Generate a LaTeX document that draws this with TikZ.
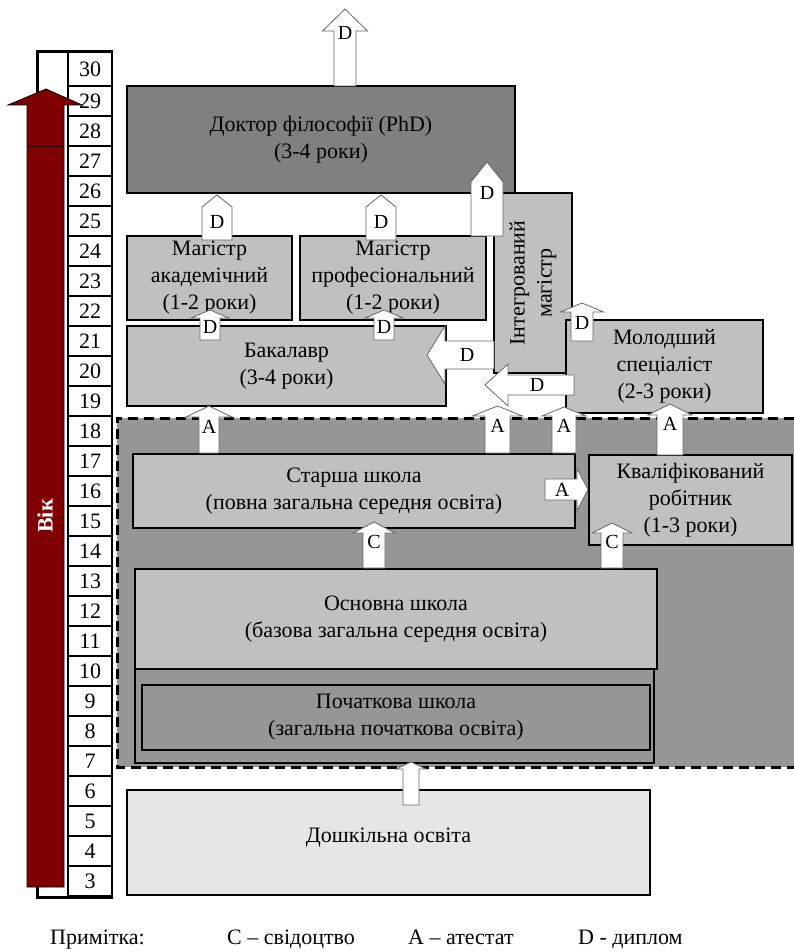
\documentclass[tikz,border=0pt]{standalone}
\usepackage{fontspec}
\setmainfont{Liberation Serif}
\newfontfamily\tnr{Liberation Serif}
\definecolor{darkredc}{HTML}{7F0000}
\definecolor{phdgray}{HTML}{808080}
\definecolor{lightg}{HTML}{C0C0C0}
\definecolor{regiong}{HTML}{969696}
\definecolor{preg}{HTML}{E6E6E6}
\newcommand\fs{\tnr\fontsize{22}{27}\selectfont}
\newcommand\ls{\tnr\fontsize{20}{24}\selectfont}
% box: name, x1, y1, x2, y2, fill, text
\newcommand\mkbox[7]{\node[box=#6,minimum width={(#4-#2)*1pt},minimum height={(#5-#3)*1pt}] (#1) at ({(#2+#4)/2},{(#3+#5)/2}) {#7};}
% up arrow: name, xc, ybottom, ytip, half shaft, half head, yheadbase, label, label y
\newcommand\aup[9]{\draw[barr] ({#2-#5},#3) -- ({#2-#5},#7) -- ({#2-#6},#7) -- (#2,#4) -- ({#2+#6},#7) -- ({#2+#5},#7) -- ({#2+#5},#3) -- cycle;
 \node[alabel] (#1) at (#2,#9) {#8};}
% horizontal arrow: name, xtip, yc, xheadbase, xend, half shaft, half head, label, label x
\newcommand\ahor[9]{\draw[barr] (#5,{#3-#6}) -- (#4,{#3-#6}) -- (#4,{#3-#7}) -- (#2,#3) -- (#4,{#3+#7}) -- (#4,{#3+#6}) -- (#5,{#3+#6}) -- cycle;
 \node[alabel] (#1) at (#9,#3) {#8};}
\begin{document}
\begin{tikzpicture}[x=1pt,y=-1pt,
  box/.style={draw=black,line width=1.2pt,fill=#1,inner sep=0pt,align=center,font=\fs},
  cell/.style={draw=black,line width=1.2pt,fill=white,minimum width=44pt,inner sep=0pt,font=\fs},
  barr/.style={draw=black!60,line width=0.8pt,fill=white},
  alabel/.style={inner sep=0pt,font=\ls},
  dashline/.style={draw=black,line width=3pt,dash pattern=on 10pt off 6pt},
  legend/.style={anchor=base west,inner sep=0pt,font=\fs}]
\useasboundingbox (0,0) rectangle (794,952);
% age table
\fill[white] (37,52) rectangle (112,897);
\node[cell,minimum height=34pt] (age30) at (90,69) {30};
\foreach \a in {3,...,29} {\node[cell,minimum height=30pt] (age\a) at (90,{86+(29-\a)*30+15}) {\a};}
\draw[line width=3pt] (113,52) -- (37.5,52) -- (37.5,897) -- (113,897);
% red age arrow
\draw[fill=darkredc,draw=black,line width=0.8pt] (27,887) -- (27,105) -- (8,105) -- (46,89) -- (82,105) -- (64,105) -- (64,887) -- cycle;
\draw[black,line width=0.8pt] (27,146) -- (64,146);
\node[text=white,font=\bfseries\fs,rotate=90,inner sep=0pt] (vik) at (45,516) {Вік};
% school region
\fill[regiong] (117,418) rectangle (794,767);
\draw[dashline] (794,418) -- (117,418) -- (117,767) -- (794,767);
% higher education boxes
\mkbox{phd}{127}{86}{515}{193}{phdgray}{Доктор філософії (PhD)\\(3-4 роки)}
\mkbox{maga}{127}{236}{292}{320}{lightg}{Магістр\\академічний\\(1-2 роки)}
\mkbox{magp}{300}{236}{486}{320}{lightg}{Магістр\\професіональний\\(1-2 роки)}
\node[box=lightg,rotate=90,minimum width=180pt,minimum height=78pt] (integ) at (533,283) {Інтегрований\\магістр};
\mkbox{bach}{127}{326}{446}{406}{lightg}{Бакалавр\\(3-4 роки)}
\mkbox{junior}{566}{320}{763}{413}{lightg}{Молодший\\спеціаліст\\(2-3 роки)}
% school boxes
\mkbox{senior}{133}{454}{575}{528}{lightg}{Старша школа\\(повна загальна середня освіта)}
\mkbox{skilled}{589}{455}{792}{545}{lightg}{Кваліфікований\\робітник\\(1-3 роки)}
\mkbox{primout}{135}{669}{654}{763}{regiong}{}
\mkbox{basic}{135}{569}{657}{669}{lightg}{Основна школа\\(базова загальна середня освіта)}
\mkbox{primary}{142}{685}{650}{750}{regiong}{Початкова школа\\(загальна початкова освіта)}
\node[box=preg,minimum width=523pt,minimum height=105pt,text depth=14pt] (presch) at (388.5,842.5) {Дошкільна освіта};
% block arrows
\aup{dtop}{345}{86}{9}{11}{22.5}{31}{D}{33}
\aup{dma}{217}{240}{195}{15}{15}{207}{D}{222}
\aup{dmp}{381}{240}{195}{15}{15}{207}{D}{222}
\aup{dint}{487}{236}{162}{16}{16}{182}{D}{193}
\aup{dba}{210}{340}{310}{10}{19}{318}{D}{327}
\aup{dbp}{384}{340}{310}{10}{19}{318}{D}{327}
\aup{djun}{582}{341}{303}{11}{21.5}{312}{D}{323}
\ahor{dib}{427}{355}{445}{494}{14}{29}{D}{467}
\ahor{djb}{485}{385}{508}{574}{10}{21}{D}{537}
\aup{asb}{209}{453}{406}{10}{23}{417}{A}{427}
\aup{asi}{497.5}{453}{406}{12.5}{25}{416}{A}{426}
\aup{asj}{564}{453}{407}{12}{22}{416}{A}{426}
\aup{akj}{670}{455}{404}{13}{22}{415}{A}{424}
\ahor{ask}{588}{489.5}{577}{545}{10.5}{21}{A}{562}
\aup{cbs}{374}{568}{522}{11}{21}{533}{C}{542}
\aup{cbk}{612}{568}{523}{11}{20}{533}{C}{542}
\draw[barr] (403,805) -- (403,769) -- (396,769) -- (411,762) -- (426,769) -- (419,769) -- (419,805) -- cycle;
% legend
\node[legend] (note) at (50,944) {Примітка:};
\node[legend] (legc) at (227,944) {C – свідоцтво};
\node[legend] (lega) at (408,944) {A – атестат};
\node[legend] (legd) at (578,944) {D - диплом};
\end{tikzpicture}
\end{document}
